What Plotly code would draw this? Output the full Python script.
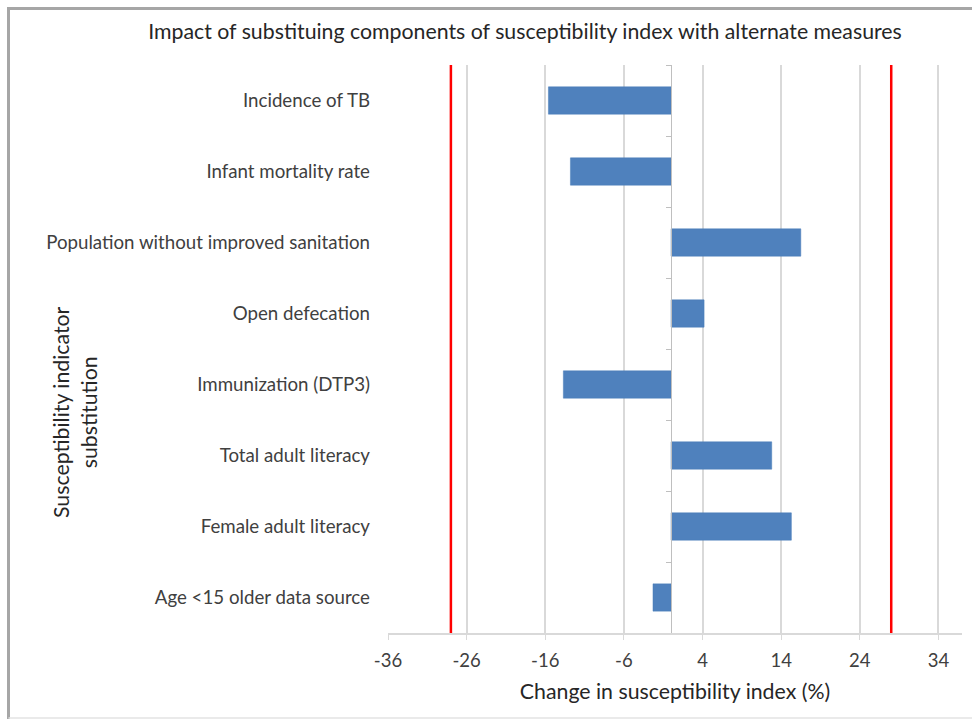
import plotly.graph_objects as go

categories = ["Incidence of TB", "Infant mortality rate", "Population without improved sanitation",
              "Open defecation", "Immunization (DTP3)", "Total adult literacy",
              "Female adult literacy", "Age <15 older data source"]
values = [-15.6, -12.8, 16.5, 4.2, -13.7, 12.8, 15.3, -2.3]
thresholds = [-28, 28]
x_range = [-36, 37]
x_ticks = [-36, -26, -16, -6, 4, 14, 24, 34]
x_tick_labels = ["-36", "-26", "-16", "-6", "4", "14", "24", "34"]

FONT = "Lato"
W, H = 972, 719
L, R, T, B = 388, 10, 65, 86
pw, ph = W - L - R, H - T - B

def px_x(px):
    return (px - L) / pw

def px_y(py):
    return (H - B - py) / ph

fig = go.Figure()
fig.add_trace(go.Bar(x=values, y=categories, orientation="h", width=0.385,
                     marker=dict(color="#4f81bd", line=dict(color="#4a7ebb", width=0.5)),
                     showlegend=False, hoverinfo="x+y"))
# invisible copy on the overlay axis that carries the zero-crossing category axis
fig.add_trace(go.Bar(x=values, y=categories, orientation="h", width=0.385, yaxis="y2",
                     opacity=0, showlegend=False, hoverinfo="skip"))

for t in thresholds:
    fig.add_shape(type="line", xref="x", yref="paper", x0=t, x1=t, y0=0, y1=1,
                  line=dict(color="#ff0000", width=2.5))

zero_pos = (0 - x_range[0]) / (x_range[1] - x_range[0])

# outer frame
fig.add_shape(type="line", xref="paper", yref="paper", x0=px_x(8.5), x1=px_x(980),
              y0=px_y(8.5), y1=px_y(8.5), line=dict(color="#a6a6a6", width=3))
fig.add_shape(type="line", xref="paper", yref="paper", x0=px_x(8.5), x1=px_x(8.5),
              y0=px_y(7), y1=px_y(725), line=dict(color="#a6a6a6", width=3))
fig.add_shape(type="line", xref="paper", yref="paper", x0=px_x(8.5), x1=px_x(980),
              y0=px_y(718), y1=px_y(718), line=dict(color="#e3e3e3", width=1.5))

fig.add_annotation(text="Susceptibility indicator<br>substitution", textangle=-90,
                   xref="paper", yref="paper", x=px_x(75), y=px_y(412),
                   xanchor="center", yanchor="middle", showarrow=False,
                   font=dict(family=FONT, size=21.3, color="#262626"))

fig.update_layout(
    width=W, height=H,
    margin=dict(l=L, r=R, t=T, b=B),
    paper_bgcolor="white", plot_bgcolor="white",
    font=dict(family=FONT, color="#404040"),
    title=dict(text="Impact of substituing components of susceptibility index with alternate measures",
               x=525 / W, xref="container", xanchor="center",
               y=1 - 32 / H, yref="container", yanchor="middle",
               font=dict(family=FONT, size=21.3, color="#262626")),
    xaxis=dict(range=x_range, tickmode="array", tickvals=x_ticks, ticktext=x_tick_labels,
               showgrid=True, gridcolor="#d9d9d9", gridwidth=1.5,
               zeroline=False, showline=True, linecolor="#d9d9d9", linewidth=1.5,
               ticks="outside", ticklen=5, tickcolor="#d9d9d9", ticklabelstandoff=5,
               tickfont=dict(family=FONT, size=18.5, color="#404040"),
               title=dict(text="Change in susceptibility index (%)", standoff=14,
                          font=dict(family=FONT, size=21.3, color="#262626"))),
    yaxis=dict(type="category", categoryorder="array", categoryarray=categories,
               autorange="reversed", showgrid=False, zeroline=False, showline=False,
               ticks="", ticklabelstandoff=17,
               tickfont=dict(family=FONT, size=18.7, color="#404040")),
    yaxis2=dict(type="category", categoryorder="array", categoryarray=categories,
                autorange="reversed", overlaying="y", anchor="free", position=zero_pos,
                side="left", showgrid=False, zeroline=False, showline=True,
                linecolor="#bfbfbf", linewidth=1, ticks="outside", ticklen=5,
                tickcolor="#bfbfbf", tickson="boundaries", showticklabels=False),
    bargap=0.615,
)

fig.write_html("out.html", config={"displayModeBar": False},
               post_script="document.body.style.margin='0';document.body.style.padding='0';")
